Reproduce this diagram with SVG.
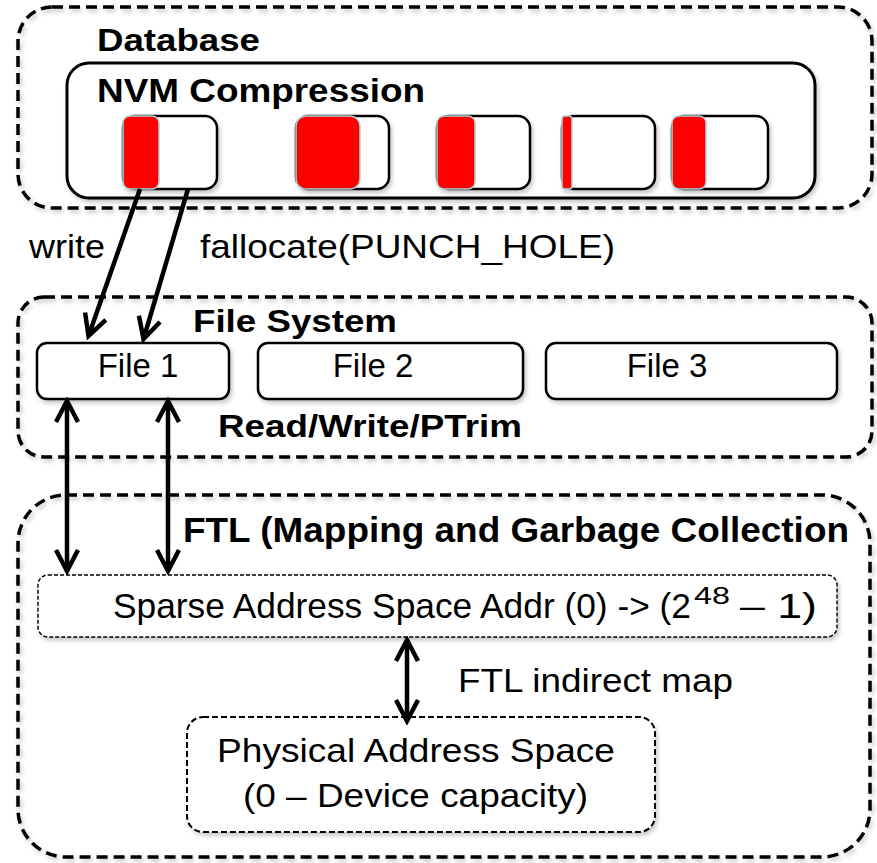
<svg xmlns="http://www.w3.org/2000/svg" width="877" height="863" viewBox="0 0 877 863">
  <style>
    .lbl { font-family: "Liberation Sans", Arial, sans-serif; fill: #000; }
    .b { font-weight: bold; }
    .outer { fill: none; stroke: #000; stroke-width: 3.5; stroke-dasharray: 11 6; }
    .inner { fill: #fff; stroke: #000; stroke-width: 2; stroke-dasharray: 6 3; }
    .thin { fill: #fff; stroke: #000; stroke-width: 1.4; stroke-dasharray: 4 2; }
    .solid { fill: #fff; stroke: #000; stroke-width: 3; }
    .file { fill: #fff; stroke: #000; stroke-width: 2.5; }
    .red { fill: #ff0000; stroke: #a9d4da; stroke-width: 1.5; }
    .conn { fill: none; stroke: #000; stroke-width: 4.5; }
  </style>
  <defs>
    <filter id="shadow" x="-10%" y="-10%" width="120%" height="130%">
      <feDropShadow dx="2" dy="3" stdDeviation="2" flood-color="#000" flood-opacity="0.22"/>
    </filter>
    <marker id="ah" viewBox="-26 -15 30 30" refX="0" refY="0" markerWidth="30" markerHeight="30" markerUnits="userSpaceOnUse" orient="auto-start-reverse">
      <path d="M-21,-11 L0,0 L-21,11" fill="none" stroke="#000" stroke-width="4.5" stroke-linejoin="miter"/>
    </marker>
  </defs>

  <!-- Database layer -->
  <g id="database">
    <rect class="outer" x="18" y="7" width="854" height="201" rx="34" filter="url(#shadow)"/>
    <text class="lbl b" x="97" y="51" font-size="31" textLength="163" lengthAdjust="spacingAndGlyphs">Database</text>
  </g>

  <g id="nvm-compression">
    <rect class="solid" x="67" y="63" width="748" height="135" rx="22" filter="url(#shadow)"/>
    <text class="lbl b" x="97" y="102" font-size="34" textLength="328" lengthAdjust="spacingAndGlyphs">NVM Compression</text>
  </g>

  <!-- compressed pages: white page with red used portion -->
  <g id="page-1" filter="url(#shadow)">
    <rect class="file" x="123" y="116" width="94" height="73" rx="12"/>
    <rect class="red" x="123" y="116" width="36" height="73" rx="7"/>
  </g>
  <g id="page-2" filter="url(#shadow)">
    <rect class="file" x="296" y="116" width="93" height="73" rx="12"/>
    <rect class="red" x="296" y="116" width="64" height="73" rx="10"/>
  </g>
  <g id="page-3" filter="url(#shadow)">
    <rect class="file" x="437" y="116" width="93" height="73" rx="12"/>
    <rect class="red" x="437" y="116" width="38" height="73" rx="7"/>
  </g>
  <g id="page-4" filter="url(#shadow)">
    <rect class="file" x="562" y="116" width="93" height="73" rx="12"/>
    <rect class="red" x="562" y="116" width="10" height="73" rx="3"/>
  </g>
  <g id="page-5" filter="url(#shadow)">
    <rect class="file" x="672" y="116" width="96" height="73" rx="12"/>
    <rect class="red" x="672" y="116" width="34" height="73" rx="7"/>
  </g>

  <!-- File system layer -->
  <g id="file-system">
    <rect class="outer" x="18" y="297" width="854" height="160" rx="26" filter="url(#shadow)"/>
    <text class="lbl b" x="193" y="332" font-size="31" textLength="204" lengthAdjust="spacingAndGlyphs">File System</text>
    <text class="lbl b" x="218" y="437" font-size="31" textLength="304" lengthAdjust="spacingAndGlyphs">Read/Write/PTrim</text>
  </g>
  <g id="file-1">
    <rect class="file" x="37" y="343" width="192" height="56" rx="10" filter="url(#shadow)"/>
    <text class="lbl" x="138" y="377" font-size="33" text-anchor="middle">File 1</text>
  </g>
  <g id="file-2">
    <rect class="file" x="258" y="343" width="265" height="56" rx="10" filter="url(#shadow)"/>
    <text class="lbl" x="373" y="377" font-size="33" text-anchor="middle">File 2</text>
  </g>
  <g id="file-3">
    <rect class="file" x="546" y="343" width="291" height="56" rx="10" filter="url(#shadow)"/>
    <text class="lbl" x="667" y="377" font-size="33" text-anchor="middle">File 3</text>
  </g>

  <!-- FTL layer -->
  <g id="ftl">
    <rect class="outer" x="18" y="495" width="852" height="362" rx="48" filter="url(#shadow)"/>
    <text class="lbl b" x="183" y="542" font-size="35" textLength="666" lengthAdjust="spacingAndGlyphs">FTL (Mapping and Garbage Collection</text>
  </g>
  <g id="sparse-space">
    <rect class="thin" x="38" y="575" width="799" height="62" rx="10" filter="url(#shadow)"/>
    <text class="lbl" x="113" y="618" font-size="35" textLength="578" lengthAdjust="spacingAndGlyphs">Sparse Address Space Addr (0) -&gt; (2</text>
    <text class="lbl" x="694" y="604" font-size="23" textLength="36" lengthAdjust="spacingAndGlyphs">48</text>
    <text class="lbl" x="740" y="618" font-size="35" textLength="77" lengthAdjust="spacingAndGlyphs">– 1)</text>
  </g>
  <g id="physical-space">
    <rect class="inner" x="187" y="717" width="468" height="115" rx="16" filter="url(#shadow)"/>
    <text class="lbl" x="217" y="762" font-size="34" textLength="398" lengthAdjust="spacingAndGlyphs">Physical Address Space</text>
    <text class="lbl" x="243" y="807" font-size="34" textLength="345" lengthAdjust="spacingAndGlyphs">(0 – Device capacity)</text>
  </g>

  <!-- connectors -->
  <g id="connectors">
    <line class="conn" x1="140" y1="189" x2="88.5" y2="336" marker-end="url(#ah)"/>
    <line class="conn" x1="188" y1="189" x2="143.5" y2="339" marker-end="url(#ah)"/>
    <line class="conn" x1="67" y1="401" x2="67" y2="571" marker-start="url(#ah)" marker-end="url(#ah)"/>
    <line class="conn" x1="168" y1="401" x2="168" y2="571" marker-start="url(#ah)" marker-end="url(#ah)"/>
    <line class="conn" x1="407" y1="640" x2="407" y2="721" marker-start="url(#ah)" marker-end="url(#ah)"/>
    <text class="lbl" x="29" y="258" font-size="34" textLength="76" lengthAdjust="spacingAndGlyphs">write</text>
    <text class="lbl" x="200" y="258" font-size="34" textLength="415" lengthAdjust="spacingAndGlyphs">fallocate(PUNCH_HOLE)</text>
    <text class="lbl" x="458" y="692" font-size="34" textLength="275" lengthAdjust="spacingAndGlyphs">FTL indirect map</text>
  </g>
</svg>
